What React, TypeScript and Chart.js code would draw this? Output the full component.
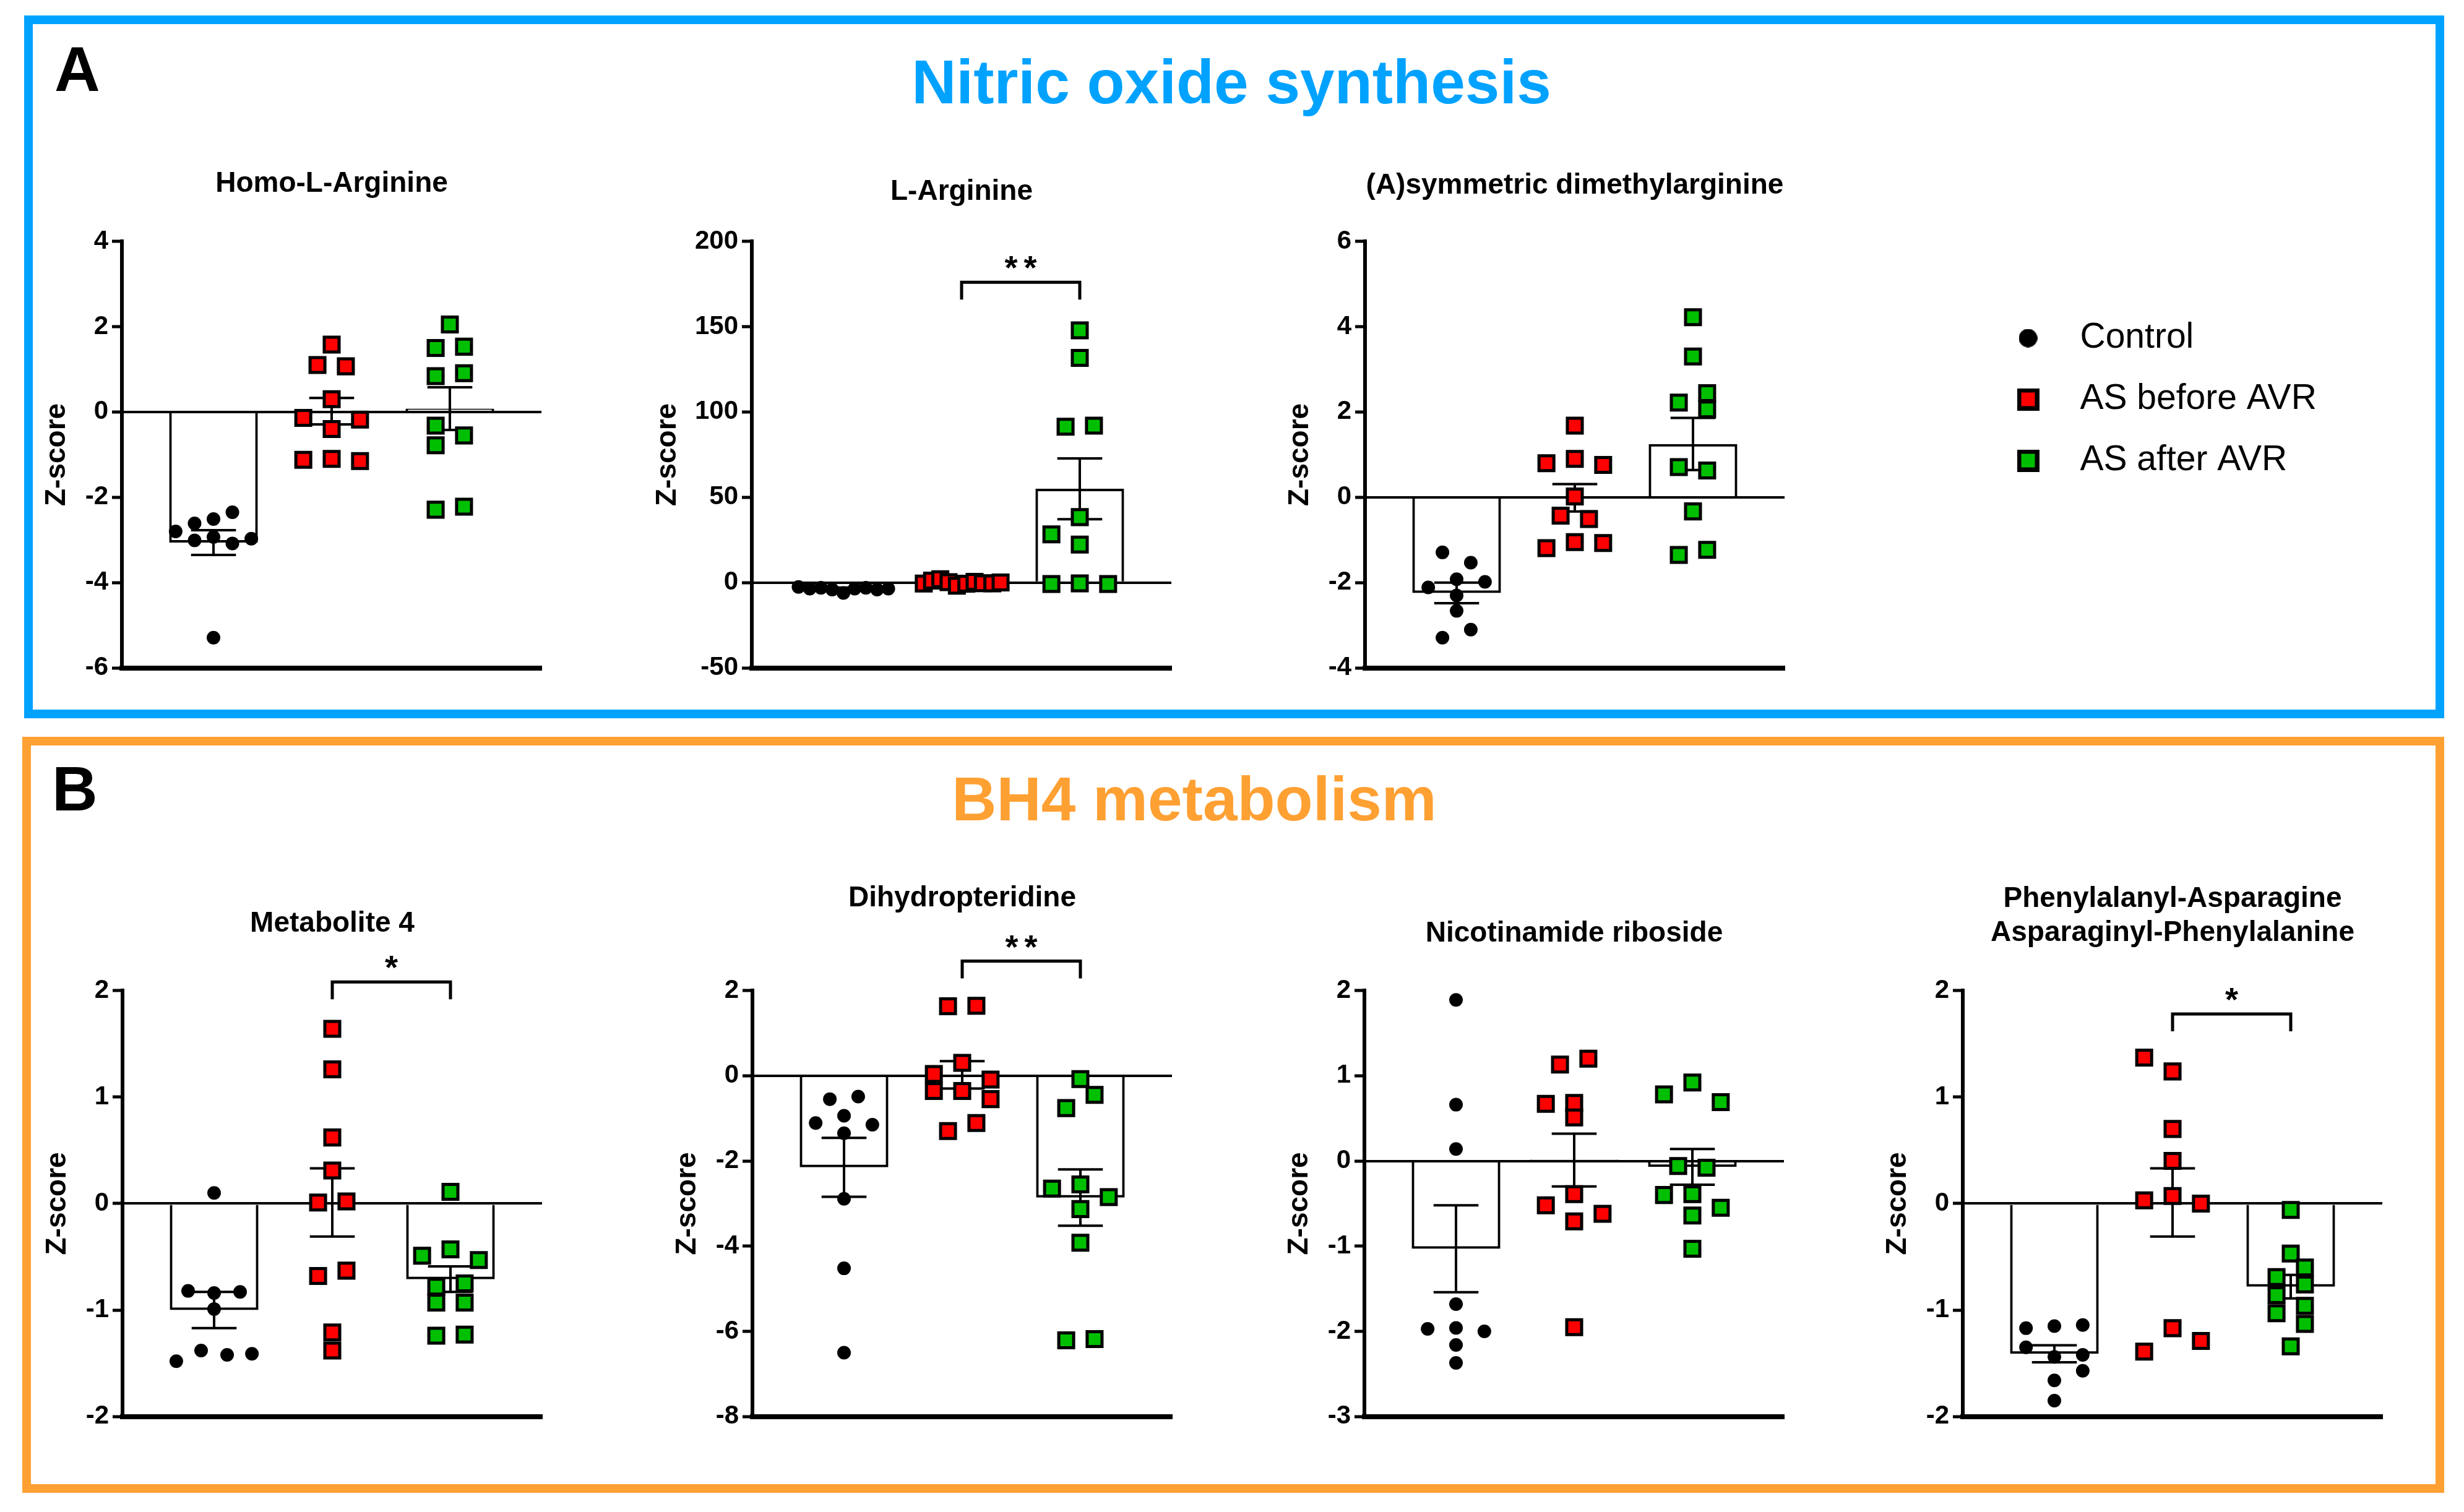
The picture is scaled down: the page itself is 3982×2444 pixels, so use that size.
import React, { useEffect, useRef } from 'react';
import { Chart, registerables } from 'chart.js';

Chart.register(...registerables);

const FONT = '"Liberation Sans", Arial, Helvetica, sans-serif';
const BLUE = '#00A2FF';
const ORANGE = '#FFA033';
const RED = '#FF0000';
const GREEN = '#00BF00';

const groupLabels = ['Control', 'AS before AVR', 'AS after AVR'];

// ---------- Panel A : Nitric oxide synthesis ----------
// Homo-L-Arginine
const homoAxis = [-6, 4, 2];
const homoCtrl = [-2.35, -2.51, -2.61, -2.8, -3.01, -2.93, -3.08, -2.97, -5.29];
const homoCtrlX = [0.16, 0, -0.16, -0.32, -0.16, 0, 0.16, 0.32, 0];
const homoBefore = [1.58, 1.1, 1.07, 0.3, -0.14, -0.18, -0.4, -1.12, -1.1, -1.15];
const homoBeforeX = [0, -0.12, 0.12, 0, -0.24, 0.24, 0, -0.24, 0, 0.24];
const homoAfter = [2.05, 1.5, 1.53, 0.84, 0.91, -0.32, -0.55, -0.78, -2.29, -2.22];
const homoAfterX = [0, -0.12, 0.12, -0.12, 0.12, -0.12, 0.12, -0.12, -0.12, 0.12];
const homoMean = [-3.06, 0.02, 0.08];
const homoSem = [0.29, 0.31, 0.5];

// L-Arginine
const argAxis = [-50, 200, 50];
const argCtrl = [-2.5, -3.5, -3.0, -4.0, -6.0, -3.5, -3.0, -4.0, -3.5];
const argCtrlX = [-0.38, -0.285, -0.19, -0.095, 0, 0.095, 0.19, 0.285, 0.38];
const argBefore = [-0.5, 1.2, 2.0, 0.3, -1.8, -0.6, 0.5, -0.3, -0.4, 0.1];
const argBeforeX = [-0.32, -0.25, -0.18, -0.11, -0.04, 0.04, 0.11, 0.18, 0.26, 0.33];
const argAfter = [147.8, 131.7, 91.4, 92.0, 38.4, 28.3, 22.3, -0.8, -0.4, -0.8];
const argAfterX = [0, 0, -0.12, 0.12, 0, -0.24, 0, -0.24, 0, 0.24];
const argMean = [-3.6, 0.05, 55.0];
const argSem = [0.4, 0.4, 17.8];
const argBracket = { from: 1, to: 2, y: 176, label: '**' };

// (A)symmetric dimethylarginine
const adAxis = [-4, 6, 2];
const adCtrl = [-1.29, -1.53, -1.92, -2.11, -1.98, -2.3, -2.66, -3.1, -3.29];
const adCtrlX = [-0.12, 0.12, 0, -0.24, 0.24, 0, 0, 0.12, -0.12];
const adBefore = [1.68, 0.8, 0.9, 0.76, 0.02, -0.43, -0.51, -1.19, -1.05, -1.07];
const adBeforeX = [0, -0.24, 0, 0.24, 0, -0.12, 0.12, -0.24, 0, 0.24];
const adAfter = [4.22, 3.3, 2.44, 2.22, 2.06, 0.71, 0.63, -0.33, -1.35, -1.23];
const adAfterX = [0, 0, 0.12, -0.12, 0.12, -0.12, 0.12, 0, -0.12, 0.12];
const adMean = [-2.24, -0.01, 1.25];
const adSem = [0.24, 0.32, 0.61];

// ---------- Panel B : BH4 metabolism ----------
// Metabolite 4
const m4Axis = [-2, 2, 1];
const m4Ctrl = [0.1, -0.82, -0.84, -0.83, -0.99, -1.48, -1.38, -1.42, -1.41];
const m4CtrlX = [0, -0.22, 0, 0.22, 0, -0.32, -0.11, 0.11, 0.32];
const m4Before = [1.64, 1.26, 0.62, 0.31, 0.01, 0.02, -0.68, -0.63, -1.21, -1.38];
const m4BeforeX = [0, 0, 0, 0, -0.12, 0.12, -0.12, 0.12, 0, 0];
const m4After = [0.11, -0.49, -0.43, -0.53, -0.78, -0.75, -0.93, -0.93, -1.24, -1.23];
const m4AfterX = [0, -0.24, 0, 0.24, -0.12, 0.12, -0.12, 0.12, -0.12, 0.12];
const m4Mean = [-1.0, 0.01, -0.71];
const m4Sem = [0.17, 0.32, 0.12];
const m4Bracket = { from: 1, to: 2, y: 2.08, label: '*' };

// Dihydropteridine
const dhAxis = [-8, 2, 2];
const dhCtrl = [-0.55, -0.49, -0.94, -1.11, -1.15, -1.35, -2.89, -4.52, -6.5];
const dhCtrlX = [-0.12, 0.12, 0, -0.24, 0.24, 0, 0, 0, 0];
const dhBefore = [1.63, 1.64, 0.3, 0.04, -0.09, -0.36, -0.36, -0.55, -1.11, -1.3];
const dhBeforeX = [-0.12, 0.12, 0, -0.24, 0.24, -0.24, 0, 0.24, 0.12, -0.12];
const dhAfter = [-0.08, -0.45, -0.76, -2.65, -2.55, -2.85, -3.13, -3.92, -6.21, -6.18];
const dhAfterX = [0, 0.12, -0.12, -0.24, 0, 0.24, 0, 0, -0.12, 0.12];
const dhMean = [-2.15, 0.02, -2.86];
const dhSem = [0.69, 0.32, 0.66];
const dhBracket = { from: 1, to: 2, y: 2.69, label: '**' };

// Nicotinamide riboside
const nrAxis = [-3, 2, 1];
const nrCtrl = [1.89, 0.66, 0.14, -1.68, -1.97, -1.96, -2.0, -2.16, -2.37];
const nrCtrlX = [0, 0, 0, 0, -0.24, 0, 0.24, 0, 0];
const nrBefore = [1.13, 1.2, 0.67, 0.68, 0.51, -0.39, -0.52, -0.62, -0.71, -1.95];
const nrBeforeX = [-0.12, 0.12, -0.24, 0, 0, 0, -0.24, 0.24, 0, 0];
const nrAfter = [0.92, 0.78, 0.69, -0.06, -0.08, -0.4, -0.39, -0.55, -0.64, -1.03];
const nrAfterX = [0, -0.24, 0.24, -0.12, 0.12, -0.24, 0, 0.24, 0, 0];
const nrMean = [-1.03, 0.01, -0.07];
const nrSem = [0.51, 0.31, 0.21];

// Phenylalanyl-Asparagine / Asparaginyl-Phenylalanine
const faAxis = [-2, 2, 1];
const faCtrl = [-1.17, -1.15, -1.14, -1.35, -1.44, -1.42, -1.57, -1.66, -1.85];
const faCtrlX = [-0.24, 0, 0.24, -0.24, 0, 0.24, 0.24, 0, 0];
const faBefore = [1.37, 1.24, 0.7, 0.4, 0.03, 0.07, 0.0, -1.17, -1.29, -1.39];
const faBeforeX = [-0.24, 0, 0, 0, -0.24, 0, 0.24, 0, 0.24, -0.24];
const faAfter = [-0.06, -0.47, -0.69, -0.6, -0.76, -0.86, -0.96, -1.03, -1.13, -1.34];
const faAfterX = [0, 0, -0.12, 0.12, 0.12, -0.12, 0.12, -0.12, 0.12, 0];
const faMean = [-1.41, 0.01, -0.78];
const faSem = [0.08, 0.32, 0.11];
const faBracket = { from: 1, to: 2, y: 1.78, label: '*' };

const specs: any[] = [
  { title: 'Homo-L-Arginine', axis: homoAxis, ctrl: homoCtrl, ctrlX: homoCtrlX, before: homoBefore, beforeX: homoBeforeX, after: homoAfter, afterX: homoAfterX, mean: homoMean, sem: homoSem, bracket: null },
  { title: 'L-Arginine', axis: argAxis, ctrl: argCtrl, ctrlX: argCtrlX, before: argBefore, beforeX: argBeforeX, after: argAfter, afterX: argAfterX, mean: argMean, sem: argSem, bracket: argBracket },
  { title: '(A)symmetric dimethylarginine', axis: adAxis, ctrl: adCtrl, ctrlX: adCtrlX, before: adBefore, beforeX: adBeforeX, after: adAfter, afterX: adAfterX, mean: adMean, sem: adSem, bracket: null },
  { title: 'Metabolite 4', axis: m4Axis, ctrl: m4Ctrl, ctrlX: m4CtrlX, before: m4Before, beforeX: m4BeforeX, after: m4After, afterX: m4AfterX, mean: m4Mean, sem: m4Sem, bracket: m4Bracket },
  { title: 'Dihydropteridine', axis: dhAxis, ctrl: dhCtrl, ctrlX: dhCtrlX, before: dhBefore, beforeX: dhBeforeX, after: dhAfter, afterX: dhAfterX, mean: dhMean, sem: dhSem, bracket: dhBracket },
  { title: 'Nicotinamide riboside', axis: nrAxis, ctrl: nrCtrl, ctrlX: nrCtrlX, before: nrBefore, beforeX: nrBeforeX, after: nrAfter, afterX: nrAfterX, mean: nrMean, sem: nrSem, bracket: null },
  { title: ['Phenylalanyl-Asparagine', 'Asparaginyl-Phenylalanine'], axis: faAxis, ctrl: faCtrl, ctrlX: faCtrlX, before: faBefore, beforeX: faBeforeX, after: faAfter, afterX: faAfterX, mean: faMean, sem: faSem, bracket: faBracket },
];

// layout (pixel positions of each plot on the page)
const layouts = [
  { axisX: 197, top: 250, plotTop: 390, plotBottom: 1081, titleY: 297, yW: 132 },
  { axisX: 1215, top: 250, plotTop: 390, plotBottom: 1081, titleY: 310.5, yW: 163 },
  { axisX: 2206, top: 250, plotTop: 390, plotBottom: 1081, titleY: 300, yW: 132 },
  { axisX: 198, top: 1400, plotTop: 1601, plotBottom: 2291, titleY: 1493.5, yW: 132 },
  { axisX: 1216, top: 1400, plotTop: 1601, plotBottom: 2291, titleY: 1452, yW: 132 },
  { axisX: 2205, top: 1400, plotTop: 1601, plotBottom: 2291, titleY: 1509, yW: 132 },
  { axisX: 3172, top: 1400, plotTop: 1601, plotBottom: 2291, titleY: 1453.5, yW: 132 },
];

const PLOT_W = 688;
const PAD_R = 12;
const X_AXIS_H = 30;
const TITLE_SIZE = 46;
const TITLE_LH = TITLE_SIZE * 1.2;
const CAP = 0.19;

const semPlugin = {
  id: 'semBars',
  afterDatasetDraw(chart: any, args: any) {
    const ds: any = chart.data.datasets[args.index];
    if (!ds || !ds.sem) return;
    const { ctx } = chart;
    const xs = chart.scales.x;
    const ys = chart.scales.y;
    ctx.save();
    ctx.strokeStyle = '#000';
    ctx.lineWidth = 4;
    ds.data.forEach((p: any, i: number) => {
      const cx = xs.getPixelForValue(p.x);
      const hi = ys.getPixelForValue(p.y + ds.sem[i]);
      const lo = ys.getPixelForValue(p.y - ds.sem[i]);
      const l = xs.getPixelForValue(p.x - CAP);
      const r = xs.getPixelForValue(p.x + CAP);
      ctx.beginPath();
      ctx.moveTo(cx, hi);
      ctx.lineTo(cx, lo);
      ctx.moveTo(l, hi);
      ctx.lineTo(r, hi);
      ctx.moveTo(l, lo);
      ctx.lineTo(r, lo);
      ctx.stroke();
    });
    ctx.restore();
  },
};

const bracketPlugin = {
  id: 'sigBracket',
  afterDatasetsDraw(chart: any, _args: any, opts: any) {
    if (!opts || opts.y === undefined || opts.y === null) return;
    const { ctx } = chart;
    const xs = chart.scales.x;
    const ys = chart.scales.y;
    const x1 = xs.getPixelForValue(opts.from);
    const x2 = xs.getPixelForValue(opts.to);
    const yy = ys.getPixelForValue(opts.y);
    const leg = 28;
    ctx.save();
    ctx.strokeStyle = '#000';
    ctx.lineWidth = 5;
    ctx.lineJoin = 'miter';
    ctx.beginPath();
    ctx.moveTo(x1, yy + leg);
    ctx.lineTo(x1, yy);
    ctx.lineTo(x2, yy);
    ctx.lineTo(x2, yy + leg);
    ctx.stroke();
    const size = 54;
    ctx.fillStyle = '#000';
    ctx.font = `bold ${size}px ${FONT}`;
    ctx.textAlign = 'center';
    ctx.textBaseline = 'alphabetic';
    const label: string = opts.label || '';
    const n = label.length;
    const cx = (x1 + x2) / 2;
    for (let i = 0; i < n; i++) {
      ctx.fillText(label[i], cx + (i - (n - 1) / 2) * 31, yy - 35 + 0.56 * size);
    }
    ctx.restore();
  },
};

function buildConfig(spec: any, lay: any): any {
  const lines = Array.isArray(spec.title) ? spec.title.length : 1;
  const pT = lay.titleY - lay.top - TITLE_LH / 2;
  const pB = lay.plotTop - lay.top - pT - TITLE_LH * lines;
  const [yMin, yMax, yStep] = spec.axis;
  const datasets: any[] = [
    {
      type: 'scatter',
      label: groupLabels[0],
      data: spec.ctrl.map((v: number, i: number) => ({ x: 0 + spec.ctrlX[i], y: v })),
      pointStyle: 'circle',
      pointRadius: 10,
      pointBorderWidth: 2,
      pointBackgroundColor: '#000',
      pointBorderColor: '#000',
      order: 0,
    },
    {
      type: 'scatter',
      label: groupLabels[1],
      data: spec.before.map((v: number, i: number) => ({ x: 1 + spec.beforeX[i], y: v })),
      pointStyle: 'rect',
      pointRadius: 17,
      pointBorderWidth: 5,
      pointBackgroundColor: RED,
      pointBorderColor: '#000',
      order: 0,
    },
    {
      type: 'scatter',
      label: groupLabels[2],
      data: spec.after.map((v: number, i: number) => ({ x: 2 + spec.afterX[i], y: v })),
      pointStyle: 'rect',
      pointRadius: 17,
      pointBorderWidth: 5,
      pointBackgroundColor: GREEN,
      pointBorderColor: '#000',
      order: 0,
    },
    {
      type: 'bar',
      label: 'Mean',
      data: spec.mean.map((m: number, i: number) => ({ x: i, y: m })),
      sem: spec.sem,
      backgroundColor: 'rgba(0,0,0,0)',
      borderColor: '#000',
      borderWidth: 4,
      borderSkipped: 'start',
      barPercentage: 0.75,
      categoryPercentage: 1,
      order: 1,
    },
  ];
  return {
    type: 'scatter',
    data: { datasets },
    plugins: [semPlugin, bracketPlugin],
    options: {
      responsive: false,
      maintainAspectRatio: false,
      animation: false,
      events: [],
      layout: { padding: { left: 0, right: PAD_R, top: 0, bottom: 0 } },
      scales: {
        x: {
          type: 'linear',
          min: -0.775,
          max: 2.775,
          offset: false,
          afterBuildTicks: (s: any) => {
            s.ticks = [0, 1, 2].map((v) => ({ value: v }));
          },
          afterFit: (s: any) => {
            s.height = X_AXIS_H;
          },
          ticks: { display: false },
          grid: { display: false, offset: false },
          border: { display: true, color: '#000', width: 8 },
        },
        y: {
          type: 'linear',
          min: yMin,
          max: yMax,
          afterFit: (s: any) => {
            s.width = lay.yW;
          },
          ticks: {
            stepSize: yStep,
            color: '#000',
            padding: 6,
            font: { family: FONT, size: 42, weight: 'bold' },
          },
          grid: {
            display: true,
            drawOnChartArea: true,
            drawTicks: true,
            tickLength: 16,
            tickWidth: 5,
            tickColor: '#000',
            color: (c: any) => (c.tick && c.tick.value === 0 ? '#000' : 'rgba(0,0,0,0)'),
            lineWidth: (c: any) => (c.tick && c.tick.value === 0 ? 4 : 0),
          },
          border: { display: true, color: '#000', width: 6 },
          title: {
            display: true,
            text: 'Z-score',
            color: '#000',
            padding: { top: 0, bottom: 0 },
            font: { family: FONT, size: 46, weight: 'bold', lineHeight: 1.2 },
          },
        },
      },
      plugins: {
        legend: { display: false },
        tooltip: { enabled: false },
        title: {
          display: true,
          text: spec.title,
          color: '#000',
          fullSize: false,
          padding: { top: pT, bottom: pB },
          font: { family: FONT, size: TITLE_SIZE, weight: 'bold', lineHeight: 1.2 },
        },
        sigBracket: spec.bracket ? spec.bracket : false,
      },
    },
  };
}

function ChartPanel({ spec, lay }: { spec: any; lay: any }) {
  const ref = useRef<HTMLCanvasElement | null>(null);
  const left = lay.axisX - lay.yW;
  const width = lay.yW + PLOT_W + PAD_R;
  const height = lay.plotBottom + X_AXIS_H - lay.top;
  useEffect(() => {
    if (!ref.current) return;
    const chart = new Chart(ref.current, buildConfig(spec, lay));
    return () => chart.destroy();
  }, []);
  return (
    <canvas
      ref={ref}
      width={width}
      height={height}
      style={{ position: 'absolute', left, top: lay.top, width, height }}
    />
  );
}

function makeMarker(kind: number): HTMLCanvasElement {
  const c = document.createElement('canvas');
  const ctx = c.getContext('2d') as CanvasRenderingContext2D;
  if (kind === 0) {
    c.width = 30;
    c.height = 30;
    ctx.fillStyle = '#000';
    ctx.beginPath();
    ctx.arc(15, 15, 15, 0, Math.PI * 2);
    ctx.fill();
  } else {
    c.width = 36;
    c.height = 36;
    ctx.fillStyle = '#000';
    ctx.fillRect(0, 0, 36, 36);
    ctx.fillStyle = kind === 1 ? RED : GREEN;
    ctx.fillRect(7, 7, 22, 22);
  }
  return c;
}

function LegendPanel() {
  const ref = useRef<HTMLCanvasElement | null>(null);
  useEffect(() => {
    if (!ref.current) return;
    const markers = [makeMarker(0), makeMarker(1), makeMarker(2)];
    const chart = new Chart(ref.current, {
      type: 'scatter',
      data: { datasets: groupLabels.map((label) => ({ label, data: [] })) },
      options: {
        responsive: false,
        animation: false,
        events: [],
        layout: { padding: 0 },
        scales: { x: { display: false }, y: { display: false } },
        plugins: {
          tooltip: { enabled: false },
          title: { display: false },
          legend: {
            display: true,
            position: 'left',
            align: 'start',
            maxWidth: 800,
            labels: {
              usePointStyle: true,
              pointStyleWidth: 111,
              padding: 42,
              color: '#000',
              font: { family: FONT, size: 57 },
              generateLabels: (ch: any) =>
                ch.data.datasets.map((ds: any, i: number) => ({
                  text: ds.label,
                  pointStyle: markers[i],
                  datasetIndex: i,
                  hidden: false,
                  lineWidth: 0,
                  fillStyle: '#000',
                  strokeStyle: '#000',
                  fontColor: '#000',
                })),
            },
          },
        },
      } as any,
    } as any);
    return () => chart.destroy();
  }, []);
  return (
    <canvas
      ref={ref}
      width={800}
      height={400}
      style={{ position: 'absolute', left: 3180, top: 476, width: 800, height: 400 }}
    />
  );
}

export default function App() {
  useEffect(() => {
    document.body.style.margin = '0';
  }, []);
  const header = (text: string, color: string, cx: number, top: number): any => (
    <div
      style={{
        position: 'absolute',
        left: cx - 1500,
        width: 3000,
        top,
        textAlign: 'center',
        fontSize: 100,
        lineHeight: '100px',
        fontWeight: 'bold',
        color,
        whiteSpace: 'nowrap',
      }}
    >
      {text}
    </div>
  );
  const letter = (text: string, left: number, top: number): any => (
    <div
      style={{
        position: 'absolute',
        left,
        top,
        fontSize: 102,
        lineHeight: '102px',
        fontWeight: 'bold',
        color: '#000',
      }}
    >
      {text}
    </div>
  );
  return (
    <div
      style={{
        position: 'relative',
        width: 3982,
        height: 2444,
        overflow: 'hidden',
        background: '#fff',
        fontFamily: FONT,
      }}
    >
      <style>{'body{margin:0}'}</style>
      <div
        style={{
          position: 'absolute',
          left: 39,
          top: 25,
          width: 3911,
          height: 1136,
          border: `14px solid ${BLUE}`,
          boxSizing: 'border-box',
        }}
      />
      <div
        style={{
          position: 'absolute',
          left: 36,
          top: 1191,
          width: 3914,
          height: 1222,
          border: `14px solid ${ORANGE}`,
          boxSizing: 'border-box',
        }}
      />
      {letter('A', 88, 61)}
      {letter('B', 84, 1224)}
      {header('Nitric oxide synthesis', BLUE, 1990, 82)}
      {header('BH4 metabolism', ORANGE, 1930, 1241)}
      {specs.map((s, i) => (
        <ChartPanel key={i} spec={s} lay={layouts[i]} />
      ))}
      <LegendPanel />
    </div>
  );
}
